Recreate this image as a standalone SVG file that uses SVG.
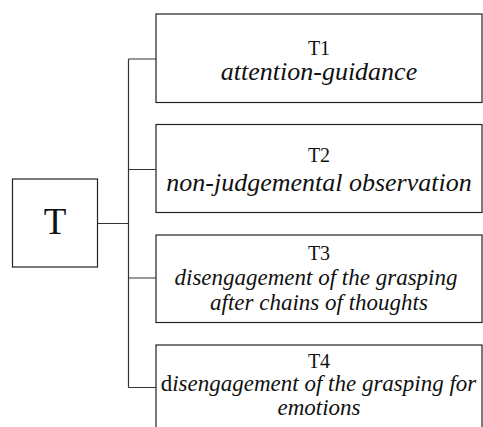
<svg xmlns="http://www.w3.org/2000/svg" width="483" height="427" viewBox="0 0 483 427">
<style>
.box{fill:#fff;stroke:#222;stroke-width:1.2}
.ln{fill:none;stroke:#333;stroke-width:1.2}
text{font-family:"Liberation Serif","Times New Roman",serif;fill:#111;text-anchor:middle}
.h{font-size:20px}
.i{font-size:26px;font-style:italic}
.s{font-size:23px;font-style:italic}
.big{font-size:37px}
</style>
<rect width="483" height="427" fill="#fff"/>
<g id="connectors">
<path class="ln" d="M98 223.5H128.5M128.5 59V387.5M128.5 59H156M128.5 169.5H156M128.5 278H156M128.5 387.5H156"/>
</g>
<g id="T">
<rect class="box" x="12.5" y="179" width="85" height="88"/>
<text class="big" x="55" y="233.5">T</text>
</g>
<g id="T1">
<rect class="box" x="156" y="14" width="326" height="88.5"/>
<text class="h" x="319" y="55">T1</text>
<text class="i" x="319" y="80">attention-guidance</text>
</g>
<g id="T2">
<rect class="box" x="156" y="124.5" width="326" height="88"/>
<text class="h" x="319" y="162">T2</text>
<text class="i" x="319" y="191">non-judgemental observation</text>
</g>
<g id="T3">
<rect class="box" x="156" y="235" width="326" height="87.5"/>
<text class="h" x="319" y="260">T3</text>
<text class="s" x="316" y="285">disengagement of the grasping</text>
<text class="s" x="319" y="310">after chains of thoughts</text>
</g>
<g id="T4">
<rect class="box" x="156" y="345" width="326" height="100"/>
<text class="h" x="319" y="367.5">T4</text>
<text class="s" x="318.5" y="391"><tspan font-style="normal">d</tspan>isengagement of the grasping for</text>
<text class="s" x="319" y="414.5">emotions</text>
</g>
</svg>
